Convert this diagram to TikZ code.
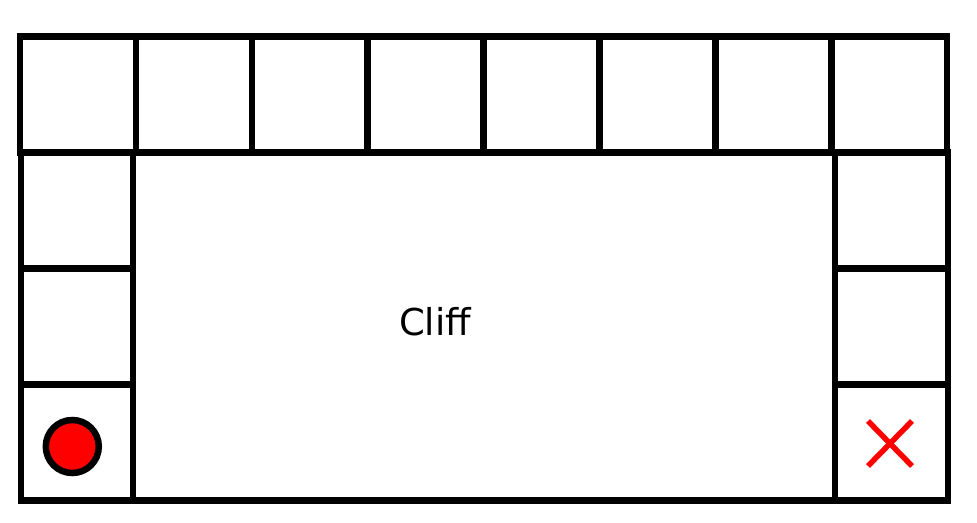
\documentclass[tikz,border=0pt]{standalone}
\usepackage{fontspec}
\setmainfont{DejaVu Sans}
\usepackage{tikz}
\tikzset{
    cell/.style={black,line width=6.5pt},
    agent/.style={draw=black,fill=red,line width=6.5pt},
    goalmark/.style={red,line width=5.5pt}
}
\begin{document}
\begin{tikzpicture}[x=1pt,y=-1pt]
\useasboundingbox(0,0)rectangle(977,522);
% top row
\foreach \i in {0,...,7}
	\draw[cell](20+115.9*\i,36.5)rectangle(20+115.9*\i+115.9,152.5);
% side columns
\foreach \y in {152.5,268.5,384.5}
	{\draw[cell](21,\y)rectangle(133,\y+116);
	 \draw[cell](835,\y)rectangle(948,\y+116);
	}
\draw[cell](133,152.5)rectangle(835,500.5);
\node (cliff) at(435,322){\fontsize{37}{44}\selectfont Cliff};

\draw[agent](72.3,446.5)circle(26.5);
\draw[goalmark](868,421)--(912,466);
\draw[goalmark](868,466)--(912,421);
\end{tikzpicture}
\end{document}
